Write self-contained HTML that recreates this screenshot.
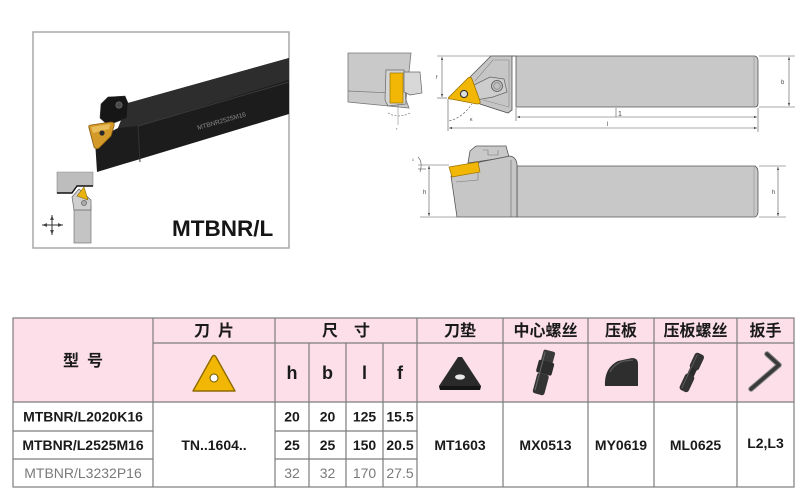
<!DOCTYPE html>
<html><head><meta charset="utf-8"><style>
html,body{margin:0;padding:0;background:#fff;}
body{width:800px;height:497px;overflow:hidden;}
svg{display:block;}
.cn{font-family:"Liberation Sans","Noto Sans CJK SC",sans-serif;font-weight:700;font-size:16px;fill:#1a1a1a;}
.lt{font-family:"Liberation Sans",sans-serif;}
</style></head><body>
<svg width="800" height="497" viewBox="0 0 800 497" xmlns="http://www.w3.org/2000/svg">
<defs>
<marker id="ar" viewBox="0 0 6 6" refX="6" refY="3" markerWidth="5" markerHeight="5" orient="auto-start-reverse"><path d="M0,0.8 L6,3 L0,5.2 Z" fill="#444"/></marker>
</defs>

<!-- ================= Photo box ================= -->
<rect x="33" y="32" width="256" height="216" fill="#fff" stroke="#a8a8a8" stroke-width="1.5"/>
<!-- bar -->
<polygon points="128,103 289,58 289,114 97,172 95,140 118,128" fill="#1c1c1c"/>
<polygon points="128,103 289,58 289,80 138,126 118,128" fill="#2d2d2d"/>
<line x1="138" y1="126" x2="289" y2="82" stroke="#3a3a3a" stroke-width="1"/>
<line x1="138" y1="126" x2="140" y2="162" stroke="#333" stroke-width="1"/>
<text x="0" y="0" transform="translate(198,130) rotate(-16)" class="lt" font-size="6.5" fill="#8a8a8a">MTBNR2525M16</text>
<!-- clamp -->
<polygon points="101,104 108,97 125,96 128,103 127,118 108,125 100,118" fill="#161616" stroke="#333" stroke-width="0.6"/>
<circle cx="119" cy="105" r="3.2" fill="#4a4a4a" stroke="#777" stroke-width="0.6"/>
<!-- insert -->
<path d="M89,128 Q88,125 91,125 L111,122 Q115,122 114,126 L111,136 L99,148 Q96,150 94,147 Z" fill="#d39a2a" stroke="#8a5d10" stroke-width="0.8"/>
<polygon points="91,127 110,124 109,129 93,133" fill="#e9bc5a"/>
<circle cx="102" cy="133" r="2.6" fill="#2a2a2a"/>
<!-- small diagram -->
<polygon points="57,172 93,172 93,186 77,186 72,193 57,193" fill="#bdbdbd" stroke="#888" stroke-width="0.6"/>
<polyline points="57,193 72,193 77,186 93,186" fill="none" stroke="#111" stroke-width="1.4"/>
<rect x="74" y="206" width="17" height="37" fill="#c4c4c4" stroke="#777" stroke-width="0.7"/>
<polygon points="72,197 79,189 91,200 91,210 74,210" fill="#cfcfcf" stroke="#666" stroke-width="0.7"/>
<polygon points="77,196 84,187 88,200" fill="#e8b410" stroke="#8a6500" stroke-width="0.6"/>
<circle cx="84" cy="203" r="2.6" fill="#aaa" stroke="#555" stroke-width="0.6"/>
<!-- cross -->
<g stroke="#333" stroke-width="1" fill="none">
<line x1="42" y1="225" x2="63" y2="225" marker-start="url(#ar)" marker-end="url(#ar)"/>
<line x1="52" y1="215" x2="52" y2="235" marker-start="url(#ar)" marker-end="url(#ar)"/>
</g>
<text x="172" y="236" class="lt" font-size="22.5" font-weight="700" fill="#151515">MTBNR/L</text>

<!-- ================= Top view drawing ================= -->
<polygon points="348,53 411,53 406,100 409,108 348,102" fill="#c9c9c9" stroke="#777" stroke-width="0.8"/>
<line x1="348" y1="91" x2="392" y2="93" stroke="#777" stroke-width="0.7"/>
<polygon points="386,70 404,70 406,104 388,106 385,100" fill="#d5d5d5" stroke="#666" stroke-width="0.7"/>
<rect x="390" y="73" width="13" height="30" fill="#f2b705" stroke="#9a7300" stroke-width="0.7"/>
<polygon points="404,72 420,72 422,93 410,95 404,92" fill="#d8d8d8" stroke="#666" stroke-width="0.7"/>
<path d="M388,113 Q398,119 410,113" fill="none" stroke="#666" stroke-width="0.6" stroke-dasharray="2,1.5"/>
<line x1="398" y1="104" x2="398" y2="125" stroke="#777" stroke-width="0.5"/>
<text x="396" y="130" class="lt" font-size="4" fill="#555">r</text>

<g stroke="#555" stroke-width="0.6" fill="none">
<line x1="437" y1="56" x2="516" y2="56"/>
<line x1="437" y1="98" x2="447" y2="98"/>
<line x1="442" y1="57" x2="442" y2="97" marker-start="url(#ar)" marker-end="url(#ar)"/>
<line x1="448" y1="99" x2="448" y2="131"/>
<line x1="516" y1="108" x2="516" y2="121"/>
<line x1="758" y1="108" x2="758" y2="132"/>
<line x1="517" y1="117" x2="757" y2="117" marker-start="url(#ar)" marker-end="url(#ar)"/>
<line x1="449" y1="128" x2="757" y2="128" marker-start="url(#ar)" marker-end="url(#ar)"/>
<line x1="616" y1="108" x2="616" y2="117"/>
<line x1="759" y1="56" x2="795" y2="56"/>
<line x1="759" y1="107" x2="795" y2="107"/>
<line x1="789" y1="57" x2="789" y2="106" marker-start="url(#ar)" marker-end="url(#ar)"/>
</g>
<path d="M449,121 Q462,118 472,104" fill="none" stroke="#555" stroke-width="0.6" stroke-dasharray="2.5,1.5"/>
<text x="436" y="79" class="lt" font-size="5" fill="#444">f</text>
<text x="470" y="121" class="lt" font-size="5" fill="#444">κ</text>
<text x="618" y="116" class="lt" font-size="7" fill="#444">1</text>
<text x="607" y="126" class="lt" font-size="6" fill="#444">l</text>
<text x="781" y="84" class="lt" font-size="6" fill="#444">b</text>
<path d="M516,56 L755,56 Q758,57 758,61 L758,103 Q758,107 755,107 L516,107 Z" fill="#c8c8c8" stroke="#555" stroke-width="0.8"/>
<line x1="754" y1="57" x2="754" y2="106" stroke="#888" stroke-width="0.5"/>
<polygon points="470,77 491,56 512,56 512,110 508,113 480,104" fill="#c6c6c6" stroke="#555" stroke-width="0.8"/>
<polyline points="475,81 493,60 509,60 509,107 483,100" fill="none" stroke="#888" stroke-width="0.6"/>
<polygon points="468,88 490,77 504,79 507,92 493,97 471,101" fill="#cdcdcd" stroke="#666" stroke-width="0.7"/>
<circle cx="497" cy="86" r="5.5" fill="#c0c0c0" stroke="#555" stroke-width="0.8"/>
<circle cx="497" cy="86" r="3.3" fill="none" stroke="#777" stroke-width="0.6"/>
<line x1="512" y1="56" x2="516" y2="56" stroke="#555" stroke-width="0.8"/>
<path d="M449,97 L468,78 Q471,76 472,79 L480,101 Q481,104 477,104 L451,99 Q447,99 449,97 Z" fill="#f2b705" stroke="#9a7300" stroke-width="0.8"/>
<circle cx="464" cy="94" r="3.6" fill="#dedede" stroke="#333" stroke-width="1.1"/>

<!-- ================= Side view drawing ================= -->
<g stroke="#555" stroke-width="0.6" fill="none">
<line x1="418" y1="165" x2="449" y2="165"/>
<line x1="420" y1="217" x2="457" y2="217"/>
<line x1="429" y1="166" x2="429" y2="216" marker-start="url(#ar)" marker-end="url(#ar)"/>
<line x1="759" y1="166" x2="786" y2="166"/>
<line x1="759" y1="217" x2="786" y2="217"/>
<line x1="778" y1="167" x2="778" y2="216" marker-start="url(#ar)" marker-end="url(#ar)"/>
<line x1="418" y1="169" x2="426" y2="169"/>
</g>
<path d="M418,157 Q423,162 420,172" fill="none" stroke="#555" stroke-width="0.6"/>
<text x="412" y="161" class="lt" font-size="4" fill="#555">λ</text>
<text x="423" y="194" class="lt" font-size="6" fill="#444">h</text>
<text x="772" y="194" class="lt" font-size="6" fill="#444">h</text>
<path d="M517,166 L755,166 Q758,168 758,172 L758,211 Q758,216 755,217 L517,217 Z" fill="#c8c8c8" stroke="#555" stroke-width="0.8"/>
<line x1="754" y1="167" x2="754" y2="216" stroke="#888" stroke-width="0.5"/>
<polygon points="468,163 470,151 476,146 506,146 509,157" fill="#c9c9c9" stroke="#555" stroke-width="0.8"/>
<path d="M483,150 L488,150 L488,155 L498,155 L498,150" fill="none" stroke="#777" stroke-width="0.6"/>
<path d="M451,176 L457,217 L517,217 L517,164 Q516,157 510,156 L480,162 Z" fill="#c6c6c6" stroke="#555" stroke-width="0.8"/>
<line x1="511" y1="160" x2="511" y2="217" stroke="#666" stroke-width="0.6"/>
<polyline points="456,182 478,180 478,173" fill="none" stroke="#777" stroke-width="0.6"/>
<polygon points="449,167 478,162 480,172 452,177" fill="#f2b705" stroke="#9a7300" stroke-width="0.7"/>

<!-- ================= Table ================= -->
<rect x="13" y="318" width="781" height="84" fill="#fcdfe9"/>
<rect x="13" y="402" width="781" height="85" fill="#fff"/>
<g stroke="#7d7d7d" stroke-width="1.2" fill="none">
<rect x="13" y="318" width="781" height="169"/>
<line x1="153" y1="318" x2="153" y2="487"/>
<line x1="275" y1="318" x2="275" y2="487"/>
<line x1="417" y1="318" x2="417" y2="487"/>
<line x1="503" y1="318" x2="503" y2="487"/>
<line x1="588" y1="318" x2="588" y2="487"/>
<line x1="654" y1="318" x2="654" y2="487"/>
<line x1="737" y1="318" x2="737" y2="487"/>
<line x1="309" y1="343" x2="309" y2="487"/>
<line x1="346" y1="343" x2="346" y2="487"/>
<line x1="383" y1="343" x2="383" y2="487"/>
<line x1="153" y1="343" x2="794" y2="343"/>
<line x1="13" y1="402" x2="794" y2="402"/>
<line x1="13" y1="431" x2="153" y2="431"/>
<line x1="13" y1="459" x2="153" y2="459"/>
<line x1="275" y1="431" x2="417" y2="431"/>
<line x1="275" y1="459" x2="417" y2="459"/>
</g>

<text x="83" y="366" class="cn" text-anchor="middle">型&#8194;号</text>
<text x="214" y="336" class="cn" text-anchor="middle">刀&#8194;片</text>
<text x="346" y="336" class="cn" text-anchor="middle">尺&#8194;&#8194;寸</text>
<text x="460" y="336" class="cn" text-anchor="middle">刀垫</text>
<text x="545.5" y="336" class="cn" text-anchor="middle">中心螺丝</text>
<text x="621" y="336" class="cn" text-anchor="middle">压板</text>
<text x="695.5" y="336" class="cn" text-anchor="middle">压板螺丝</text>
<text x="765.5" y="336" class="cn" text-anchor="middle">扳手</text>
<g class="lt" font-size="18" font-weight="700" fill="#1a1a1a" text-anchor="middle">
<text x="292" y="379">h</text>
<text x="327.5" y="379">b</text>
<text x="364.5" y="379">l</text>
<text x="400" y="379">f</text>
</g>

<path d="M193,391 L212,357 Q214,354 216,357 L235,391 Z" fill="#f2b705" stroke="#8e6a00" stroke-width="1.4" stroke-linejoin="round"/>
<circle cx="214" cy="378" r="4" fill="#fff" stroke="#6d5200" stroke-width="1"/>

<polygon points="439,386 458,357 462,357 481,386 480,390 440,390" fill="#2a2a2a"/>
<polygon points="439,386 481,386 480,390 440,390" fill="#151515"/>
<ellipse cx="460" cy="377" rx="5" ry="2.6" fill="#e8e8e8"/>

<g transform="translate(544,372) rotate(15)">
<rect x="-6" y="-22" width="12" height="12" rx="2" fill="#3a3a3a"/>
<rect x="-8" y="-11" width="16" height="13" rx="2" fill="#2c2c2c"/>
<rect x="-6" y="2" width="12" height="21" rx="2.5" fill="#333"/>
<line x1="-4" y1="-20" x2="-4" y2="20" stroke="#6a6a6a" stroke-width="1"/>
</g>

<path d="M605,386 Q604,368 618,361 L632,358 Q638,358 638,364 L638,386 Z" fill="#2e2e2e"/>
<path d="M610,372 Q614,364 624,361 L633,360" fill="none" stroke="#5a5a5a" stroke-width="1.2"/>

<g transform="translate(692,372) rotate(25)">
<rect x="-5" y="-20" width="10" height="17" rx="3" fill="#333"/>
<rect x="-3.5" y="-4" width="7" height="8" fill="#2a2a2a"/>
<rect x="-5" y="3" width="10" height="18" rx="3" fill="#333"/>
<line x1="-2.5" y1="-18" x2="-2.5" y2="19" stroke="#666" stroke-width="0.8"/>
</g>

<polyline points="767,354 779,365 751,389" fill="none" stroke="#8a8a8a" stroke-width="5.5" stroke-linejoin="round" stroke-linecap="round"/>
<polyline points="767,354 779,365 751,389" fill="none" stroke="#3a3a3a" stroke-width="3.5" stroke-linejoin="round" stroke-linecap="round"/>

<g class="lt" font-size="14" font-weight="700" fill="#1a1a1a" text-anchor="middle">
<text x="83" y="421.5">MTBNR/L2020K16</text>
<text x="83" y="450">MTBNR/L2525M16</text>
<text x="292" y="421.5">20</text>
<text x="327.5" y="421.5">20</text>
<text x="364.5" y="421.5">125</text>
<text x="400" y="421.5">15.5</text>
<text x="292" y="450">25</text>
<text x="327.5" y="450">25</text>
<text x="364.5" y="450">150</text>
<text x="400" y="450">20.5</text>
<text x="214" y="450">TN..1604..</text>
<text x="460" y="450">MT1603</text>
<text x="545.5" y="450">MX0513</text>
<text x="621" y="450">MY0619</text>
<text x="695.5" y="450">ML0625</text>
<text x="765.5" y="448">L2,L3</text>
</g>
<g class="lt" font-size="14" fill="#7a7a7a" text-anchor="middle">
<text x="83" y="478">MTBNR/L3232P16</text>
<text x="292" y="478">32</text>
<text x="327.5" y="478">32</text>
<text x="364.5" y="478">170</text>
<text x="400" y="478">27.5</text>
</g>
</svg>
</body></html>
